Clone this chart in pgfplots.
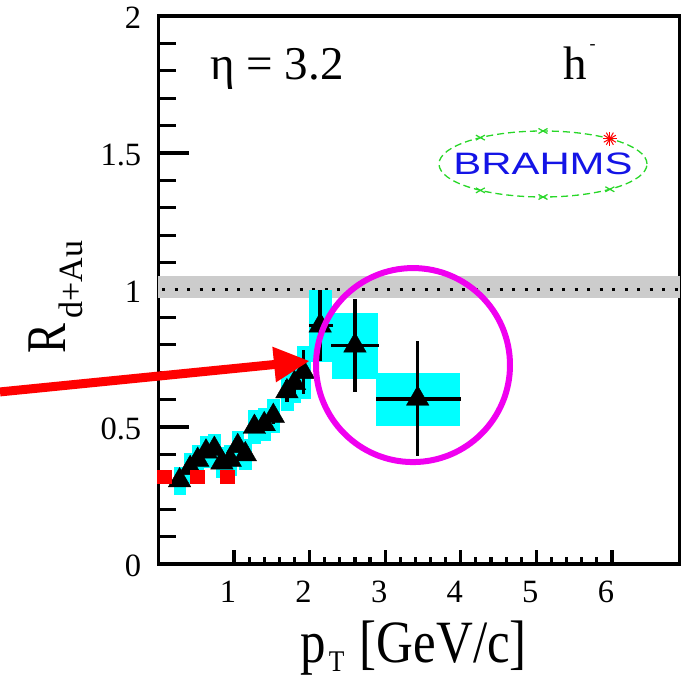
\documentclass[border=0pt]{standalone}
\usepackage{fontspec}
\setmainfont{Liberation Serif}
\newfontfamily\logofont{Liberation Sans}
\usepackage{graphicx}
\usepackage{pgfplots}
\pgfplotsset{compat=1.18}
\usepackage{pgfplotstable}
\usetikzlibrary{arrows.meta}

\definecolor{syscyan}{RGB}{0,255,255}
\definecolor{bandgray}{RGB}{204,204,204}
\definecolor{logogreen}{RGB}{40,215,40}
\definecolor{logoblue}{RGB}{20,20,230}
\definecolor{ringmagenta}{RGB}{240,0,240}

% an empty plot mark, used where only the scatter hooks should draw
\pgfdeclareplotmark{empty}{}

% h- nuclear modification factor at eta = 3.2
% x, y: pT and R_dAu; exm/exp: horizontal bars; ey: statistical error;
% sx, sy: half sizes of the systematic-error boxes
\pgfplotstableread{
x     y      exm   exp   ey    sx    sy
0.28  0.305  0     0     0.02  0.075 0.050
0.42  0.350  0     0     0.02  0.075 0.055
0.52  0.380  0     0     0.02  0.075 0.055
0.63  0.410  0     0     0.02  0.075 0.055
0.74  0.420  0     0     0.02  0.075 0.055
0.84  0.370  0     0     0.02  0.075 0.055
0.95  0.380  0     0     0.02  0.075 0.055
1.05  0.430  0     0     0.02  0.075 0.055
1.15  0.400  0     0     0.02  0.075 0.055
1.27  0.500  0     0     0.02  0.08  0.060
1.40  0.510  0     0     0.02  0.08  0.060
1.52  0.540  0     0     0.03  0.08  0.060
1.70  0.630  0     0     0.04  0.08  0.070
1.80  0.660  0     0     0.04  0.08  0.070
1.92  0.700  0     0     0.08  0.09  0.095
2.14  0.870  0.15  0.17  0.13  0.14  0.130
2.60  0.797  0.32  0.32  0.17  0.30  0.120
3.43  0.603  0.55  0.57  0.21  0.545 0.095
}\hminus

% second data set (squares)
\pgfplotstableread{
x     y
0.08  0.318
0.51  0.318
0.91  0.318
}\hsquares

\begin{document}
\begin{tikzpicture}
\useasboundingbox (0,0) rectangle (681pt,677pt);
\begin{axis}[
  at={(158.4pt,113pt)}, anchor=south west,
  scale only axis, width=521.6pt, height=548pt,
  xmin=0, xmax=6.9, ymin=0, ymax=2,
  clip=false, clip marker paths=true,
  axis line style={line width=3.5pt},
  xtick={1,2,3,4,5,6}, ytick={0,0.5,1,1.5,2},
  minor x tick num=4, minor y tick num=4,
  tick align=inside,
  xtick pos=bottom, ytick pos=left,
  tick style={line width=3.2pt, black},
  xtick style={/pgfplots/major tick length=14pt, /pgfplots/minor tick length=7pt},
  ytick style={/pgfplots/major tick length=31pt, /pgfplots/minor tick length=18pt},
  /pgf/number format/assume math mode=true,
  tick label style={font=\fontsize{32.5}{39}\selectfont},
  xticklabel style={anchor=base, inner sep=0pt, yshift=-39pt, xshift=-6pt},
  yticklabel style={anchor=east, inner sep=0pt, xshift=-17pt, yshift=-2pt},
]
% unity reference band and line
\addplot[draw=none, fill=bandgray] coordinates {(0,0.972) (6.9,0.972) (6.9,1.052) (0,1.052)} -- cycle;
\addplot[black, line width=3pt, dash pattern=on 3pt off 9.5pt] coordinates {(0.05,1) (6.9,1)};

% systematic-error boxes
\addplot[
  scatter, only marks, mark=empty,
  visualization depends on={\thisrow{sx}\as\boxw},
  visualization depends on={\thisrow{sy}\as\boxh},
  scatter/@pre marker code/.code={%
    \pgfmathsetmacro\bxm{-\boxw}\pgfmathsetmacro\bym{-\boxh}%
    \fill[syscyan] (axis direction cs:\bxm,\bym) rectangle (axis direction cs:\boxw,\boxh);},
  scatter/@post marker code/.code={},
] table[x=x, y=y] {\hminus};

% data points with error bars
\addplot[
  only marks, black, mark=triangle*, mark size=13pt,
  error bars/.cd, x dir=both, x explicit, y dir=both, y explicit,
  error mark=none, error bar style={line width=3.5pt, black},
] table[x=x, y=y, x error minus=exm, x error plus=exp, y error=ey] {\hminus};

\addplot[only marks, red, mark=square*, mark size=6.8pt, mark options={fill=red}]
  table[x=x, y=y] {\hsquares};

% annotations
\draw[red, line width=9pt, -{Triangle[length=36pt,width=33pt]}]
  (axis cs:-2.095,0.628) -- (axis cs:2.005,0.741);
\draw[ringmagenta, line width=6pt] (axis cs:3.368,0.726) circle[radius=97pt];
\end{axis}

% axis titles
\node[anchor=base, inner sep=0pt, xscale=0.85] at (413.5pt,14pt)
  {\fontsize{60}{60}\selectfont p\hspace{4pt}\raisebox{-9pt}{\fontsize{30}{30}\selectfont T}\hspace{18pt}[GeV/c]};
\node[rotate=90, anchor=base, inner sep=0pt] at (65pt,380pt)
  {\fontsize{56}{56}\selectfont\scalebox{0.8}[1]{R}\hspace{5pt}\raisebox{-18pt}{\fontsize{34}{34}\selectfont d+Au}};

% in-frame labels
\node[anchor=base west, inner sep=0pt] at (210pt,597pt) {\fontsize{47}{47}\selectfont η = 3.2};
\node[anchor=base west, inner sep=0pt] at (563pt,597pt)
  {\fontsize{47}{47}\selectfont h\hspace{3pt}\raisebox{30pt}{\fontsize{18}{18}\selectfont -}};

% experiment logo
\begin{scope}[shift={(543pt,513pt)}]
  \draw[logogreen, line width=1.3pt, dash pattern=on 7pt off 4pt] (0,0) ellipse[x radius=104pt, y radius=33pt];
  \foreach \a in {127,90,233,270,310} {
    \begin{scope}[shift={({104pt*cos(\a)},{33pt*sin(\a)})}]
      \draw[logogreen, line width=1.2pt] (-4.5pt,-2.5pt) -- (4.5pt,2.5pt) (-4.5pt,2.5pt) -- (4.5pt,-2.5pt);
    \end{scope}
  }
  \begin{scope}[shift={({104pt*cos(50)},{33pt*sin(50)})}]
    \foreach \b in {0,30,...,330} \draw[red, line width=1pt] (0,0) -- (\b:7pt);
  \end{scope}
  \node[inner sep=0pt, xscale=1.35, text=logoblue] at (0,0) {\logofont\fontsize{31}{31}\selectfont BRAHMS};
\end{scope}
\end{tikzpicture}
\end{document}
